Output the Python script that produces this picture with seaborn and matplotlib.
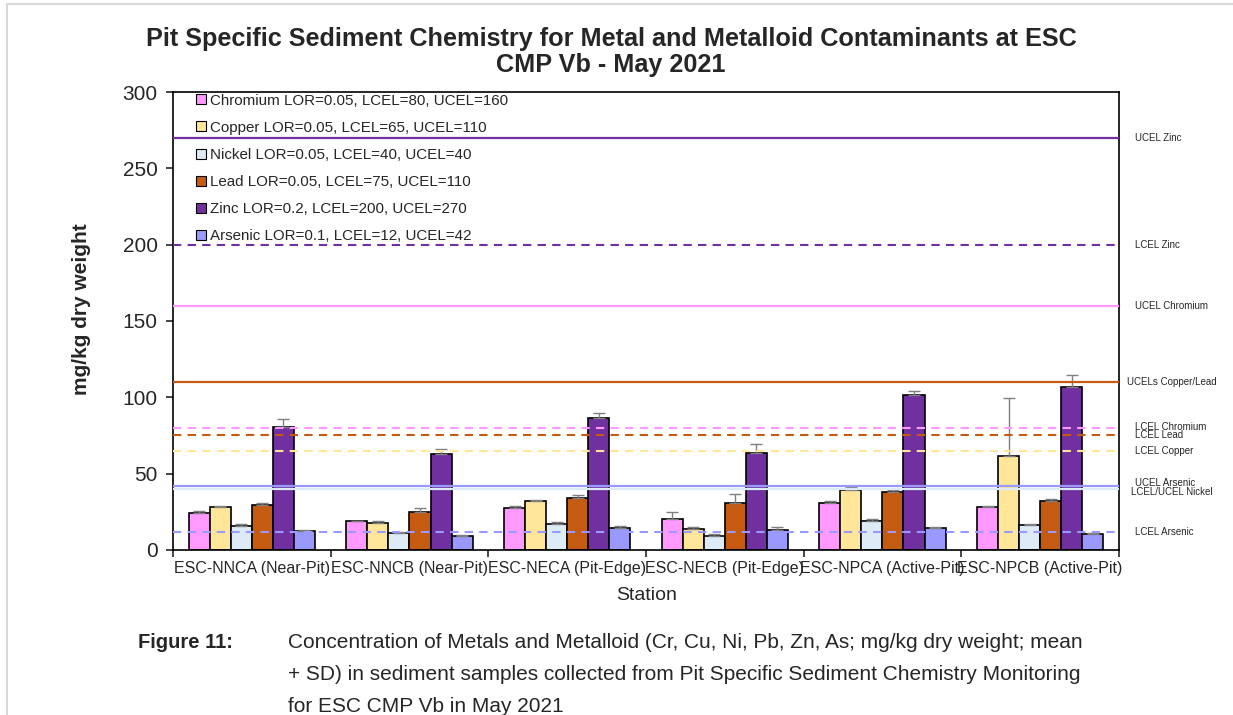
import pandas as pd
import seaborn as sns
import matplotlib.pyplot as plt
from matplotlib.lines import Line2D
from matplotlib.patches import Rectangle

stations = ["ESC-NNCA (Near-Pit)", "ESC-NNCB (Near-Pit)", "ESC-NECA (Pit-Edge)",
            "ESC-NECB (Pit-Edge)", "ESC-NPCA (Active-Pit)", "ESC-NPCB (Active-Pit)"]
metals = ["Chromium", "Copper", "Nickel", "Lead", "Zinc", "Arsenic"]
legend_labels = ["Chromium LOR=0.05, LCEL=80, UCEL=160",
                 "Copper LOR=0.05, LCEL=65, UCEL=110",
                 "Nickel LOR=0.05, LCEL=40, UCEL=40",
                 "Lead LOR=0.05, LCEL=75, UCEL=110",
                 "Zinc LOR=0.2, LCEL=200, UCEL=270",
                 "Arsenic LOR=0.1, LCEL=12, UCEL=42"]
colors = ["#FF99FF", "#FFE699", "#DDEBF7", "#C55A11", "#7030A0", "#9999FF"]

chromium = [24.5, 18.8, 27.3, 20.4, 30.8, 28.2]
copper = [28.0, 18.0, 32.1, 13.8, 39.6, 61.5]
nickel = [15.8, 11.2, 17.1, 9.2, 19.0, 16.4]
lead = [29.5, 24.7, 33.9, 30.6, 38.0, 32.4]
zinc = [80.8, 63.2, 86.3, 63.6, 101.8, 106.8]
arsenic = [12.5, 9.2, 14.5, 12.9, 14.3, 10.4]

chromium_sd = [0.8, 0.5, 1.7, 4.6, 1.0, 0.8]
copper_sd = [0.6, 0.9, 0.9, 1.5, 1.7, 38.0]
nickel_sd = [0.9, 0.6, 1.3, 1.1, 1.1, 0.7]
lead_sd = [1.3, 2.6, 2.2, 6.3, 1.3, 1.3]
zinc_sd = [5.0, 3.1, 3.7, 5.5, 2.4, 7.9]
arsenic_sd = [0.7, 0.9, 1.5, 2.4, 0.7, 0.7]

# guideline values with their colours, styles and right-hand labels
guide_values = [270, 200, 160, 110, 80, 75, 65, 42, 40, 12]
guide_colors = ["#7030A0", "#7030A0", "#FF99FF", "#C55A11", "#FF99FF",
                "#C55A11", "#FFE699", "#9999FF", "#DDEBF7", "#9999FF"]
guide_styles = ["-", "--", "-", "-", "--", "--", "--", "-", "-", "--"]
guide_labels = ["UCEL Zinc", "LCEL Zinc", "UCEL Chromium", "UCELs Copper/Lead",
                "LCEL Chromium", "LCEL Lead", "LCEL Copper", "UCEL Arsenic",
                "LCEL/UCEL Nickel", "LCEL Arsenic"]
label_y = [270, 200, 160, 110, 80.4, 75.4, 65, 43.7, 37.8, 11.6]
label_x = [1.017, 1.017, 1.017, 1.0085, 1.017, 1.017, 1.017, 1.017, 1.0127, 1.017]

means = [chromium, copper, nickel, lead, zinc, arsenic]
sds = [chromium_sd, copper_sd, nickel_sd, lead_sd, zinc_sd, arsenic_sd]
df = pd.DataFrame([
    {"Station": s, "Metal": m, "value": means[i][j]}
    for i, m in enumerate(metals) for j, s in enumerate(stations)
])

sns.set_style("white")
plt.rcParams["font.family"] = ["Liberation Sans", "DejaVu Sans"]

fig = plt.figure(figsize=(12.33, 7.15), dpi=100)
ax = fig.add_axes([0.1403, 0.2308, 0.7672, 0.6405])

sns.barplot(data=df, x="Station", y="value", hue="Metal", hue_order=metals,
            palette=colors, saturation=1, edgecolor="black", linewidth=1.2,
            errorbar=None, width=0.8, legend=False, ax=ax, zorder=2)

for cont, sd in zip(ax.containers, sds):
    xs = [b.get_x() + b.get_width() / 2 for b in cont]
    hs = [b.get_height() for b in cont]
    ax.errorbar(xs, hs, yerr=[[0] * len(sd), sd], fmt="none", ecolor="#7F7F7F",
                elinewidth=1, capsize=4, capthick=1, zorder=3)

for v, c, ls, lab, ly, lx in zip(guide_values, guide_colors, guide_styles,
                                 guide_labels, label_y, label_x):
    if ls == "--":
        ax.axhline(v, color=c, lw=1.5, linestyle=(0, (4, 3)), zorder=4)
    else:
        ax.axhline(v, color=c, lw=1.6, zorder=4)
    ax.text(lx, ly, lab, transform=ax.get_yaxis_transform(), fontsize=7,
            va="center", ha="left")

ax.set_ylim(0, 300)
ax.set_xlim(-0.5, 5.5)
ax.set_yticks([0, 50, 100, 150, 200, 250, 300])
ax.tick_params(axis="y", labelsize=15, length=5, width=1.2, pad=6, direction="out", left=True)
ax.tick_params(axis="x", which="major", labelsize=11.5, length=0, pad=8)
ax.set_xticks([-0.5, 0.5, 1.5, 2.5, 3.5, 4.5, 5.5], minor=True)
ax.tick_params(axis="x", which="minor", length=5, width=1.2, direction="out", bottom=True)
ax.set_xlabel("")
ax.set_ylabel("")
for sp in ax.spines.values():
    sp.set_color("black")
    sp.set_linewidth(1.2)

handles = [Line2D([], [], marker="s", linestyle="none", markerfacecolor=c,
                  markeredgecolor="black", markeredgewidth=0.8, markersize=7)
           for c in colors]
ax.legend(handles, legend_labels, loc="upper left", bbox_to_anchor=(0.022, 1.0),
          frameon=False, fontsize=10.9, handlelength=0.7, handletextpad=0.25,
          labelspacing=0.87, borderpad=0.1, borderaxespad=0)

fig.text(0.4955, 1 - 52 / 715, "Pit Specific Sediment Chemistry for Metal and Metalloid Contaminants at ESC\nCMP Vb - May 2021",
         ha="center", va="center", fontsize=18.2, fontweight="bold", linespacing=1.12)
fig.text(0.0665, 0.568, "mg/kg dry weight", rotation=90, ha="center", va="center",
         fontsize=15, fontweight="bold")
fig.text(647 / 1233, 1 - 595 / 715, "Station", ha="center", va="center", fontsize=14)

fig.text(138 / 1233, 1 - 643 / 715, "Figure 11:", ha="left", va="center",
         fontsize=14.5, fontweight="bold")
caption = ["Concentration of Metals and Metalloid (Cr, Cu, Ni, Pb, Zn, As; mg/kg dry weight; mean",
           "+ SD) in sediment samples collected from Pit Specific Sediment Chemistry Monitoring",
           "for ESC CMP Vb in May 2021"]
for k, line in enumerate(caption):
    fig.text(288 / 1233, 1 - (643 + 32 * k) / 715, line, ha="left", va="center", fontsize=15)

fig.add_artist(Rectangle((6.5 / 1233, -0.05), 1.2, 1.05 - 3.5 / 715,
                         transform=fig.transFigure, fill=False,
                         edgecolor="#D9D9D9", linewidth=1.5))

fig.savefig("out.png", dpi=100)
